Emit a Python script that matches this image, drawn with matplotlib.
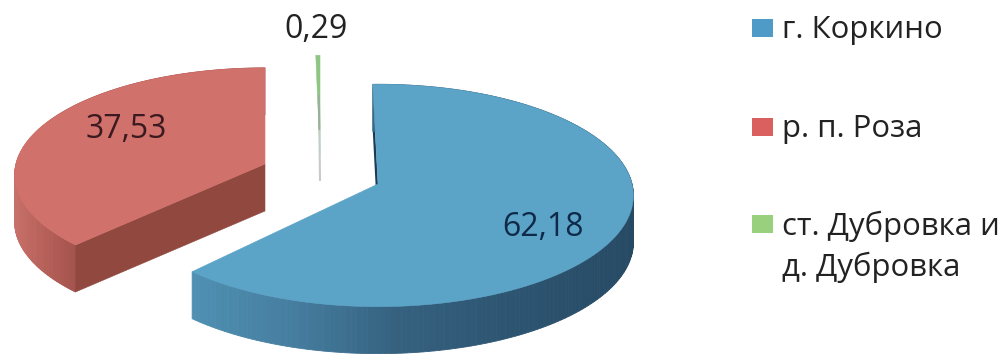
import numpy as np
import matplotlib
matplotlib.use('Agg')
import matplotlib.pyplot as plt
from matplotlib.colors import to_rgb

# share of each settlement, percent
places = ['г. Коркино', 'р. п. Роза', 'ст. Дубровка и\nд. Дубровка']
shares = [62.18, 37.53, 0.29]

plt.rcParams['font.family'] = ['Open Sans', 'DejaVu Sans']

# vanishing strength of the tilted disc
K = 0.103
RX = 254
RY = 110
DEPTH = 47


def rim(cx, cy, start, sweep, n=200, rx_=RX, ry_=RY):
    # clockwise arc of the disc, projected with perspective
    a = np.radians(np.linspace(start, start - sweep, n))
    w = 1 + K * np.sin(a)
    return cx + rx_ * np.cos(a) / w, cy - ry_ * np.sin(a) / w


def wall(ax, x, y, xs, colors):
    # outer side of a slice, drawn as narrow strips so the shade can change along it
    rgb = np.array([to_rgb(c) for c in colors])
    for i in range(len(x) - 1):
        col = [np.interp(x[i], xs, rgb[:, j]) for j in range(3)]
        ax.fill([x[i], x[i + 1], x[i + 1], x[i]],
                [y[i], y[i + 1], y[i + 1] + DEPTH, y[i] + DEPTH],
                color=col, lw=0.6, zorder=1)


def top(ax, cx, cy, x, y, color, zorder=3):
    ax.fill(np.r_[cx, x], np.r_[cy, y], color=color, lw=0.4, zorder=zorder)


fig = plt.figure(figsize=(10.08, 3.54), dpi=100)
ax = fig.add_axes([0, 0, 1, 1])
ax.set_xlim(0, 1008)
ax.set_ylim(354, 0)
ax.axis('off')

sweeps = [s * 3.6 for s in shares]

# blue slice, pulled to the lower right
bx, by = 378, 184
bstart = 91.3
x, y = rim(bx, by, bstart, sweeps[0])
ax.fill([bx, x[0], x[0], bx], [by, y[0], y[0] + DEPTH, by + DEPTH], color='#1d3a55', lw=0, zorder=0.5)
wall(ax, x, y, [195, 300, 400, 510, 635],
     ['#4f90b2', '#457c9e', '#35617f', '#2d5572', '#274a64'])
top(ax, bx, by, x, y, '#5ba3c7')

# red slice, pulled to the left
rx, ry = 265, 164
rstart = 90 + sweeps[1]
x, y = rim(rx, ry, rstart, sweeps[1], rx_=249, ry_=106)
wall(ax, x, y, [15, 40, 75], ['#c8706a', '#b9625b', '#a4534d'])
ax.fill([rx, x[0], x[0], rx], [ry, y[0], y[0] + DEPTH, ry + DEPTH], color='#90483f', lw=0.4, zorder=2)
top(ax, rx, ry, x, y, '#d1716b')

# green sliver, almost edge-on
gx, gy = 320, 155
x, y = rim(gx, gy, 90 + sweeps[2], sweeps[2], n=8)
top(ax, gx, gy, x, y, '#8fc583')
ax.plot([318.8, 319.4], [95, 130], color='#9aaf9c', lw=1.5, zorder=4, solid_capstyle='butt')
ax.plot([319.4, 320], [130, 181], color='#c3cdc5', lw=1.5, zorder=4, solid_capstyle='butt')

# value labels
label_pos = [(543, 228), (126, 129), (316, 29)]
label_col = ['#0f2a48', '#3a1a20', '#222222']
for v, (lx, ly), c in zip(shares, label_pos, label_col):
    ax.text(lx, ly, f'{v:.2f}'.replace('.', ','), fontsize=23, color=c,
            ha='center', va='center', zorder=5)

# key on the right
key_y = [28, 127, 224]
key_col = ['#4f9bc8', '#d9605f', '#98d07e']
for name, ky, c in zip(places, key_y, key_col):
    ax.fill([752, 773, 773, 752], [ky - 9, ky - 9, ky + 9, ky + 9], color=c, lw=0, zorder=5)
    ax.text(782, ky - 13, name, fontsize=22.4, color='#222222', ha='left', va='top',
            linespacing=1.38, zorder=5)

fig.savefig('out.png', dpi=100)
